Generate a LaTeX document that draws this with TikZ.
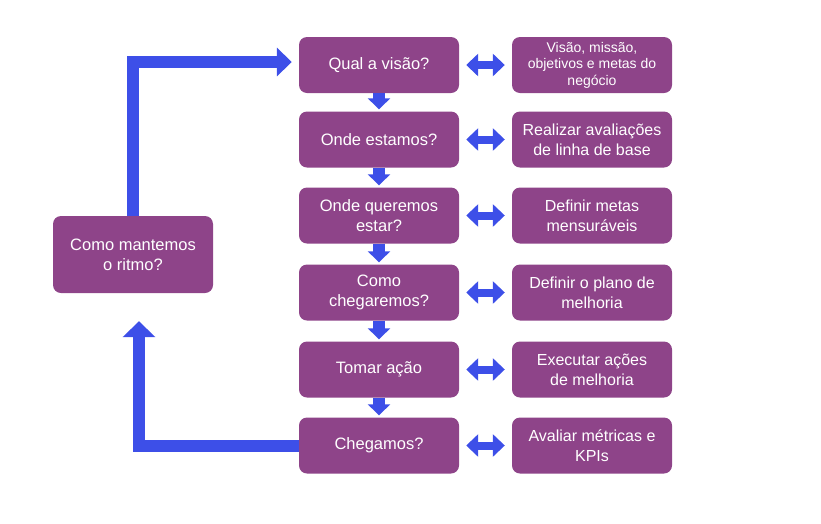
\documentclass[tikz,border=0pt]{standalone}
\usepackage{fontspec}
\setmainfont{Liberation Sans}
\usetikzlibrary{arrows.meta}
\definecolor{boxpurple}{HTML}{8E4489}
\definecolor{arrowblue}{HTML}{3D4FE8}
\begin{document}
\begin{tikzpicture}[x=1pt,y=-1pt,
  box/.style={fill=boxpurple, rounded corners=8pt, minimum width=160pt, minimum height=56pt,
    text=white, align=center, inner sep=2pt, font=\fontsize{16.5}{20}\selectfont},
  rbox/.style={box, font=\fontsize{16}{20}\selectfont},
  smallbox/.style={box, font=\fontsize{14}{16.5}\selectfont},
  dbl/.style={draw=arrowblue, line width=8pt, {Triangle[width=22pt,length=12pt]}-{Triangle[width=22pt,length=12pt]}, shorten <=7pt, shorten >=7pt},
  down/.style={draw=arrowblue, line width=12pt, -{Triangle[width=22pt,length=11pt]}, shorten >=2pt},
  loop/.style={draw=arrowblue, line width=12pt, line join=miter}
]
\useasboundingbox (0,0) rectangle (821,523);
% middle column
\node[box] (m1) at (379,65) {Qual a visão?};
\node[box] (m2) at (379,139.5) {Onde estamos?};
\node[box] (m3) at (379,215.5) {Onde queremos\\estar?};
\node[box] (m4) at (379,292.5) {Como\\chegaremos?};
\node[box] (m5) at (379,369.5) {Tomar ação};
\node[box] (m6) at (379,445.5) {Chegamos?};
% right column
\node[smallbox] (r1) at (592,65) {Visão, missão,\\objetivos e metas do\\negócio};
\node[rbox] (r2) at (592,139.5) {Realizar avaliações\\de linha de base};
\node[rbox] (r3) at (592,215.5) {Definir metas\\mensuráveis};
\node[rbox] (r4) at (592,292.5) {Definir o plano de\\melhoria};
\node[rbox] (r5) at (592,369.5) {Executar ações\\de melhoria};
\node[rbox] (r6) at (592,445.5) {Avaliar métricas e\\KPIs};
% left box
\node[box, minimum height=77pt] (l) at (133,254.5) {Como mantemos\\o ritmo?};
% double arrows
\foreach \i in {1,...,6} {
  \draw[dbl] (m\i.east) -- (r\i.west);
}
% down arrows
\foreach \i/\j in {1/2,2/3,3/4,4/5,5/6} {
  \draw[down] (m\i.south) -- (m\j.north);
}
% loop arrows
\draw[loop, -{Triangle[width=28pt,length=15pt]}, shorten >=7pt] (l.north) |- ([yshift=3pt]m1.west);
\draw[loop, -{Triangle[width=32pt,length=16pt]}, shorten >=28pt] (m6.west) -| ([xshift=6pt]l.south);
\end{tikzpicture}
\end{document}
